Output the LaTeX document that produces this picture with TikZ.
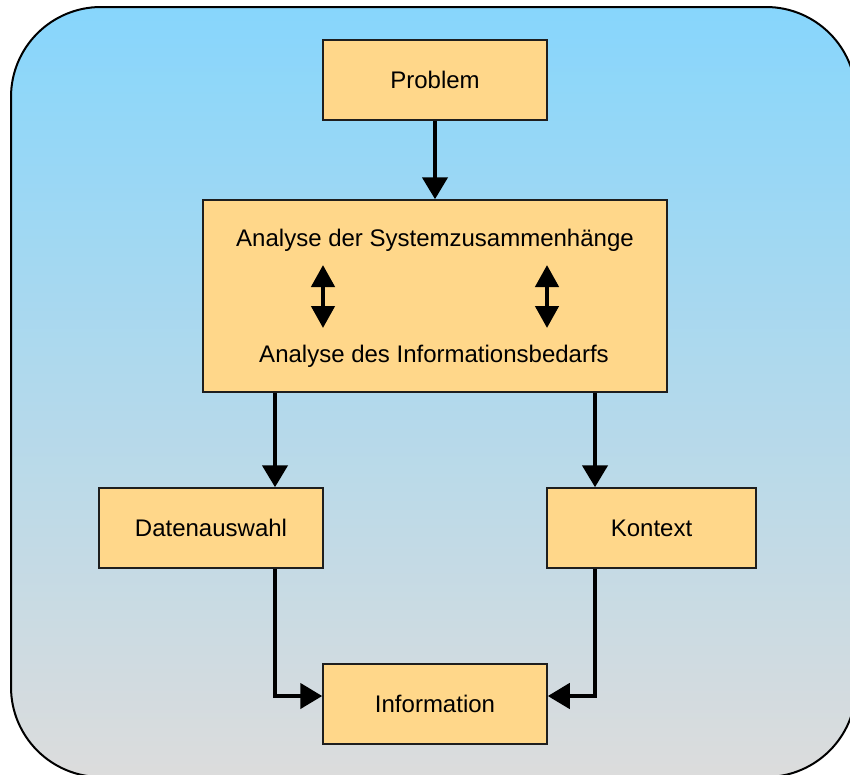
\documentclass[tikz,border=0pt]{standalone}
\usepackage{fontspec}
\setmainfont{Liberation Sans}
\usetikzlibrary{arrows.meta}
\definecolor{boxfill}{RGB}{255,215,138}
\definecolor{boxline}{RGB}{30,30,30}
\definecolor{bgtop}{RGB}{135,214,252}
\definecolor{bgbot}{RGB}{220,220,220}
\tikzset{
  box/.style={draw=boxline, line width=1.5pt, fill=boxfill, rectangle, inner sep=0pt,
    font=\fontsize{24}{28}\selectfont},
  label/.style={inner sep=0pt, font=\fontsize{24}{28}\selectfont},
  conn/.style={line width=4.5pt, -{Triangle[width=25pt,length=22pt]}},
  dbl/.style={line width=4.5pt, {Triangle[width=23pt,length=22pt]}-{Triangle[width=23pt,length=22pt]}}
}
\begin{document}
\begin{tikzpicture}[x=1pt,y=-1pt]
\useasboundingbox (0,0) rectangle (850,774);
\clip (0,0) rectangle (850,774);
\draw[line width=2pt, top color=bgtop, bottom color=bgbot, rounded corners=90pt]
  (11,7) rectangle (856,777);
\node[box, minimum width=224pt, minimum height=80pt] (pro) at (435,80) {Problem};
\node[box, minimum width=464pt, minimum height=192pt] (ana) at (435,296) {};
\node[label] (t1) at (435,240) {Analyse der Systemzusammenh\"ange};
\node[label] (t2) at (434,356) {Analyse des Informationsbedarfs};
\node[box, minimum width=224pt, minimum height=80pt] (dat) at (211,528) {Datenauswahl};
\node[box, minimum width=209pt, minimum height=80pt] (kon) at (651.5,528) {Kontext};
\node[box, minimum width=224pt, minimum height=80pt] (inf) at (435,704) {Information};
\coordinate (cl) at (275,0);
\coordinate (cr) at (595,0);
\coordinate (a1t) at (323,265);
\coordinate (a1b) at (323,328);
\coordinate (a2t) at (547,265);
\coordinate (a2b) at (547,328);
\draw[dbl] (a1t) -- (a1b);
\draw[dbl] (a2t) -- (a2b);
\draw[conn] (pro.south) -- (ana.north);
\draw[conn] (ana.south -| cl) -- (dat.north -| cl);
\draw[conn] (ana.south -| cr) -- (kon.north -| cr);
\draw[conn] (dat.south -| cl) |- ([yshift=8pt]inf.west);
\draw[conn] (kon.south -| cr) |- ([yshift=8pt]inf.east);
\end{tikzpicture}
\end{document}
